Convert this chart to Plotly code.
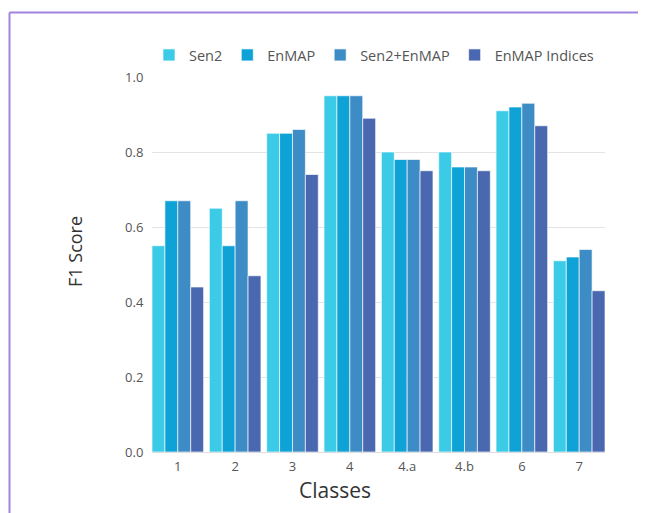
import plotly.graph_objects as go

classes = ["1", "2", "3", "4", "4.a", "4.b", "6", "7"]
sen2 = [0.55, 0.65, 0.85, 0.95, 0.80, 0.80, 0.91, 0.51]
enmap = [0.67, 0.55, 0.85, 0.95, 0.78, 0.76, 0.92, 0.52]
sen2_enmap = [0.67, 0.67, 0.86, 0.95, 0.78, 0.76, 0.93, 0.54]
enmap_indices = [0.44, 0.47, 0.74, 0.89, 0.75, 0.75, 0.87, 0.43]

series = [
    ("Sen2", sen2, "#3ccbe6"),
    ("EnMAP", enmap, "#0ea2d6"),
    ("Sen2+EnMAP", sen2_enmap, "#3d8cc6"),
    ("EnMAP Indices", enmap_indices, "#4a68b0"),
]

OFF = 8  # page body margin
W, H = 646, 513
# desired plot area on screen: x 152-605, y 77-452
L, T = 152 - OFF, 77 - OFF
R = W - (605 - OFF)
B = H - (452 - OFF)
pw, ph = W - L - R, H - T - B

def px(x):  # screen px -> paper
    return (x - OFF - L) / pw

def py(y):
    return (H - B - (y - OFF)) / ph

fig = go.Figure()
for name, vals, col in series:
    fig.add_trace(go.Bar(
        x=classes, y=vals, name=name,
        marker=dict(color=col, line=dict(color="rgba(255,255,255,0.8)", width=0.8)),
    ))

font = "Open Sans, Noto Sans, sans-serif"
fig.update_layout(
    width=W, height=H,
    margin=dict(l=L, r=R, t=T, b=B),
    paper_bgcolor="white", plot_bgcolor="white",
    barmode="group", bargap=0.1, bargroupgap=0,
    font=dict(family=font, size=13, color="#555555"),
    legend=dict(orientation="h", x=px(149), xanchor="left", y=py(55), yanchor="middle",
                font=dict(size=14.5, color="#555555"), traceorder="normal"),
    xaxis=dict(range=[-0.45, 7.45], showgrid=False, showline=True, linecolor="#dddddd",
               ticks="outside", ticklen=2, tickcolor="rgba(0,0,0,0)",
               tickfont=dict(size=13, color="#555555")),
    yaxis=dict(range=[0, 1.0], dtick=0.2, tickformat=".1f", gridcolor="#e3e3e3",
               zeroline=False, ticks="outside", ticklen=5, tickcolor="rgba(0,0,0,0)",
               tickfont=dict(size=13, color="#555555")),
    annotations=[
        dict(text="Classes", x=px(335), y=py(490), xref="paper", yref="paper",
             xanchor="center", yanchor="middle",
             showarrow=False, font=dict(size=21, color="#333333", family=font)),
        dict(text="F1 Score", x=px(75), y=py(252), xref="paper", yref="paper",
             xanchor="center", yanchor="middle",
             showarrow=False, textangle=-90, font=dict(size=18, color="#333333", family=font)),
    ],
    shapes=[
        dict(type="line", xref="paper", yref="paper", x0=px(9.5), x1=px(9.5), y0=py(12.5), y1=py(540),
             line=dict(color="#a184e0", width=2)),
        dict(type="line", xref="paper", yref="paper", x0=px(9.5), x1=px(670), y0=py(12.5), y1=py(12.5),
             line=dict(color="#a184e0", width=2)),
    ],
)

fig.write_html("out.html")
